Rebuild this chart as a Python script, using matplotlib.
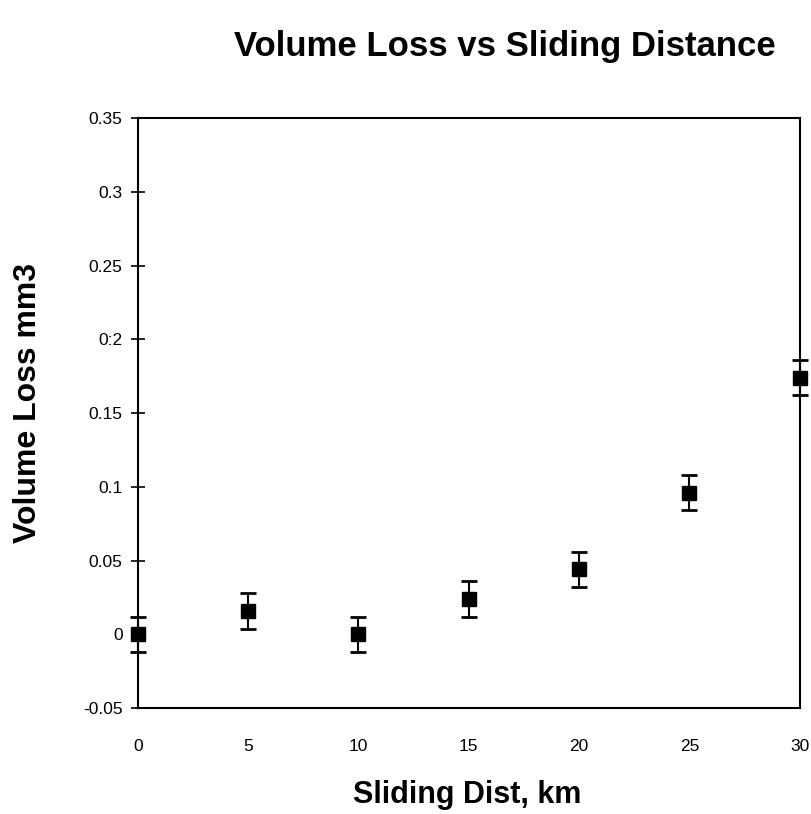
import numpy as np
import matplotlib.pyplot as plt

plt.rcParams['font.family'] = ['Liberation Sans', 'DejaVu Sans']

# data
dist = [0, 5, 10, 15, 20, 25, 30]
vol_loss = [0.0, 0.016, 0.0, 0.024, 0.044, 0.096, 0.174]
err = [0.012, 0.012, 0.012, 0.012, 0.012, 0.012, 0.012]

yticks = [-0.05, 0, 0.05, 0.1, 0.15, 0.2, 0.25, 0.3, 0.35]
ylabels = ['-0.05', '0', '0.05', '0.1', '0.15', '0:2', '0.25', '0.3', '0.35']
xticks = [0, 5, 10, 15, 20, 25, 30]

fig = plt.figure(figsize=(8.11, 8.14), dpi=100)
ax = fig.add_axes([0.170, 0.130, 0.816, 0.725])

ax.errorbar(dist, vol_loss, yerr=err, fmt='s', color='black', ms=10,
            capsize=5.5, elinewidth=1.5, capthick=2, clip_on=False, zorder=3)

ax.set_xlim(0, 30)
ax.set_ylim(-0.05, 0.35)
ax.set_yticks(yticks)
ax.set_yticklabels(ylabels, fontsize=12.5)
ax.set_xticks(xticks)
ax.set_xticklabels([str(v) for v in xticks], fontsize=12.5)
ax.tick_params(axis='y', direction='inout', length=10, width=1.2, pad=6)
ax.tick_params(axis='x', length=0, pad=22)
for s in ax.spines.values():
    s.set_linewidth(1.5)

fig.text(0.035, 0.505, 'Volume Loss mm3', fontsize=23, fontweight='bold',
         rotation=90, ha='center', va='center')
fig.text(0.576, 0.023, 'Sliding Dist, km', fontsize=22, fontweight='bold',
         ha='center', va='center')
fig.text(0.623, 0.943, 'Volume Loss vs Sliding Distance', fontsize=25,
         fontweight='bold', ha='center', va='center')

fig.savefig('out.png', dpi=100)
